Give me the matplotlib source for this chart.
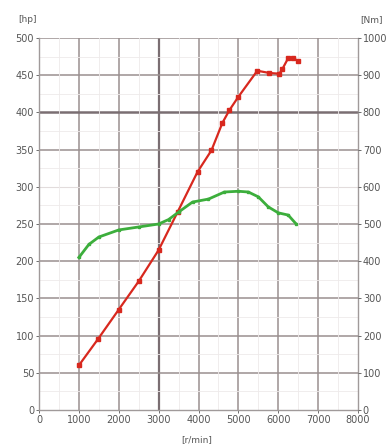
import matplotlib.pyplot as plt
import numpy as np

# power curve [hp]
rpm_hp = [1000, 1475, 2000, 2500, 3000, 3475, 3975, 4325, 4600, 4775, 5000,
          5475, 5775, 6025, 6100, 6250, 6375, 6500]
hp = [60, 95, 135, 173, 215, 266, 320, 349, 386, 403, 421,
      456, 453, 452, 458, 473, 473, 469]

# torque curve [Nm]
rpm_nm = [1000, 1250, 1500, 2000, 2500, 3000, 3250, 3500, 3850, 4250, 4650,
          5000, 5250, 5500, 5750, 6000, 6250, 6450]
nm = [410, 445, 465, 484, 492, 500, 512, 532, 559, 567, 586,
      588, 586, 573, 546, 530, 524, 500]

x_ticks = np.arange(0, 8001, 1000)
hp_ticks = np.arange(0, 501, 50)
nm_ticks = np.arange(0, 1001, 100)

txt = '#555555'
grid_col = '#9a9090'

fig = plt.figure(figsize=(3.88, 4.48), dpi=100)
ax = fig.add_axes([39 / 388, 1 - 410 / 448, 319 / 388, 372 / 448])

ax.set_xlim(0, 8000)
ax.set_ylim(0, 500)
ax.set_xticks(x_ticks)
ax.set_yticks(hp_ticks)
ax.set_xticks(np.arange(500, 8000, 1000), minor=True)
ax.set_yticks(np.arange(25, 500, 50), minor=True)

# grid
for v in x_ticks[1:-1]:
    if v == 3000:
        ax.axvline(v, color='#7a6e72', lw=1.6, zorder=1)
    else:
        ax.axvline(v, color=grid_col, lw=1.1, zorder=1)
for v in hp_ticks[1:-1]:
    if v == 400:
        ax.axhline(v, color='#7a6e72', lw=1.8, zorder=1)
    elif v == 300:
        ax.axhline(v, color='#e2dcdc', lw=0.8, zorder=1)
    else:
        ax.axhline(v, color=grid_col, lw=1.1, zorder=1)
ax.axhline(500, color=grid_col, lw=1.1, zorder=1)
ax.grid(which='minor', color='#eeeaea', lw=0.6)

for s in ax.spines.values():
    s.set_color('#a09a9a')
    s.set_linewidth(1.0)
ax.spines['top'].set_visible(False)

ax.tick_params(axis='both', which='major', labelsize=7, colors=txt, length=2,
               width=0.6, pad=1.5)
ax.tick_params(which='minor', length=0)
ax.plot(rpm_hp, hp, color='#d8281e', lw=1.6, marker='s', ms=2.5, zorder=4)

ax2 = ax.twinx()
ax2.set_ylim(0, 1000)
ax2.set_yticks(nm_ticks)
ax2.tick_params(axis='y', labelsize=7, colors=txt, length=2, width=0.6, pad=1.5)
for s in ax2.spines.values():
    s.set_visible(False)
ax2.plot(rpm_nm, nm, color='#3cae3c', lw=2.0, marker='s', ms=2.0, zorder=3)

fig.text(18 / 388, 1 - 20 / 448, '[hp]', fontsize=6.5, color=txt, ha='left', va='center')
fig.text(360 / 388, 1 - 20 / 448, '[Nm]', fontsize=6.5, color=txt, ha='left', va='center')
fig.text(197 / 388, 1 - 440 / 448, '[r/min]', fontsize=6.5, color=txt, ha='center', va='center')

fig.savefig('out.png', dpi=100)
